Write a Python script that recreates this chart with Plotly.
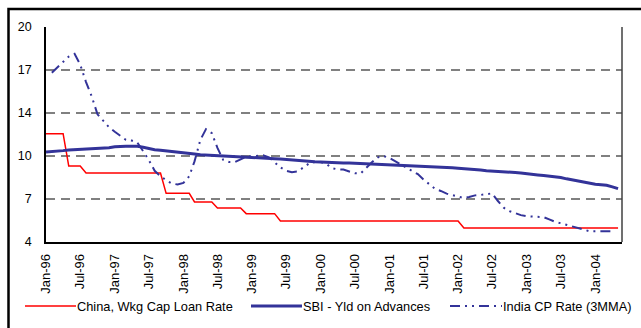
import pandas as pd
import plotly.graph_objects as go

# Monthly observations, Jan-96 .. May-04
months = pd.date_range("1996-01-01", periods=101, freq="MS")

series_names = ["China, Wkg Cap Loan Rate", "SBI - Yld on Advances", "India CP Rate (3MMA)"]

china_rate = [
    12.06, 12.06, 12.06, 12.06, 9.65, 9.65, 9.65, 9.13, 9.13, 9.13,
    9.13, 9.13, 9.13, 9.13, 9.13, 9.13, 9.13, 9.13, 9.13, 9.13,
    9.13, 7.62, 7.62, 7.62, 7.62, 7.62, 6.98, 6.98, 6.98, 6.98,
    6.53, 6.53, 6.53, 6.53, 6.53, 6.11, 6.11, 6.11, 6.11, 6.11,
    6.11, 5.56, 5.56, 5.56, 5.56, 5.56, 5.56, 5.56, 5.56, 5.56,
    5.56, 5.56, 5.56, 5.56, 5.56, 5.56, 5.56, 5.56, 5.56, 5.56,
    5.56, 5.56, 5.56, 5.56, 5.56, 5.56, 5.56, 5.56, 5.56, 5.56,
    5.56, 5.56, 5.56, 5.04, 5.04, 5.04, 5.04, 5.04, 5.04, 5.04,
    5.04, 5.04, 5.04, 5.04, 5.04, 5.04, 5.04, 5.04, 5.04, 5.04,
    5.04, 5.04, 5.04, 5.04, 5.04, 5.04, 5.04, 5.04, 5.04, 5.04,
    5.04,
]

sbi_yield = [
    10.70, 10.72, 10.75, 10.80, 10.85, 10.87, 10.90, 10.93, 10.95, 10.97,
    11.00, 11.02, 11.08, 11.12, 11.12, 11.12, 11.12, 11.05, 10.95, 10.87,
    10.82, 10.78, 10.76, 10.72, 10.65, 10.60, 10.55, 10.50, 10.48, 10.46,
    10.45, 10.43, 10.40, 10.38, 10.36, 10.35, 10.33, 10.30, 10.27, 10.25,
    10.20, 10.17, 10.13, 10.10, 10.07, 10.03, 10.00, 9.97, 9.95, 9.92,
    9.90, 9.89, 9.88, 9.87, 9.85, 9.84, 9.82, 9.80, 9.78, 9.76,
    9.76, 9.75, 9.74, 9.72, 9.70, 9.68, 9.65, 9.63, 9.61, 9.58,
    9.56, 9.52, 9.48, 9.46, 9.42, 9.38, 9.35, 9.31, 9.29, 9.26,
    9.23, 9.20, 9.17, 9.13, 9.10, 9.05, 8.99, 8.95, 8.91, 8.86,
    8.80, 8.70, 8.62, 8.53, 8.45, 8.36, 8.30, 8.26, 8.22, 8.10,
    7.97,
]

india_cp = [
    None, 16.60, 17.00, 17.40, 17.80, 18.00, 17.20, 15.90, 14.80, 13.50,
    13.00, 12.55, 12.20, 11.85, 11.60, 11.55, 11.40, 10.75, 10.10, 9.30,
    8.90, 8.60, 8.35, 8.28, 8.40, 8.90, 10.00, 11.60, 12.40, 12.10,
    11.00, 10.10, 9.95, 9.95, 10.15, 10.35, 10.38, 10.42, 10.45, 10.30,
    9.95, 9.55, 9.30, 9.20, 9.25, 9.58, 9.85, 9.95, 9.95, 9.80,
    9.50, 9.40, 9.39, 9.25, 9.12, 9.10, 9.55, 9.95, 10.30, 10.40,
    10.25, 10.00, 9.80, 9.55, 9.30, 9.05, 8.65, 8.30, 7.95, 7.80,
    7.60, 7.50, 7.40, 7.27, 7.35, 7.47, 7.50, 7.58, 7.62, 7.05,
    6.55, 6.30, 6.15, 6.00, 5.92, 5.90, 5.88, 5.85, 5.68, 5.50,
    5.40, 5.28, 5.15, 5.03, 4.90, 4.80, 4.80, 4.80, 4.80, 4.80,
    None,
]

# Value axis: 4..20 split into five equal steps, labels shown rounded
y_tick_vals = [4, 7.2, 10.4, 13.6, 16.8, 20]
y_tick_text = ["4", "7", "10", "14", "17", "20"]

x_tick_vals = pd.date_range("1996-01-01", "2004-01-01", freq="6MS")
x_tick_text = ["Jan-96", "Jul-96", "Jan-97", "Jul-97", "Jan-98", "Jul-98", "Jan-99",
               "Jul-99", "Jan-00", "Jul-00", "Jan-01", "Jul-01", "Jan-02", "Jul-02",
               "Jan-03", "Jul-03", "Jan-04"]

RED = "#FF0000"
NAVY = "#333399"
CP_DASH = "10px,5px,2px,5px,2px,5px"
FONT = "Liberation Sans, Arial, sans-serif"

styles = [
    dict(color=RED, width=1.5),
    dict(color=NAVY, width=3),
    dict(color=NAVY, width=2, dash=CP_DASH),
]

fig = go.Figure()
for name, vals, st in zip(series_names, [china_rate, sbi_yield, india_cp], styles):
    fig.add_trace(go.Scatter(x=months, y=vals, mode="lines", name=name,
                             line=st, connectgaps=False, showlegend=False))

# plot-area geometry in pixels (for positioning frame and legend items)
L, R, T, B = 46, 622, 27, 242
W, H = R - L, B - T


def px_x(p):
    return (p - L) / W


def px_y(p):
    return (B - p) / H


shapes = [
    # outer chart frame
    dict(type="rect", xref="paper", yref="paper",
         x0=px_x(8.5), x1=px_x(700), y0=px_y(400), y1=px_y(9),
         line=dict(color="black", width=2.5), fillcolor="rgba(0,0,0,0)", layer="above"),
    # right edge of the plot area
    dict(type="line", xref="paper", yref="paper", x0=1, x1=1, y0=0, y1=1,
         line=dict(color="#404040", width=1.5)),
]

annotations = []
legend_y = 306
legend_items = [(25, 76), (251, 302), (450, 502)]
for (x0, x1), name, st in zip(legend_items, series_names, styles):
    shapes.append(dict(type="line", xref="paper", yref="paper",
                       x0=px_x(x0), x1=px_x(x1), y0=px_y(legend_y), y1=px_y(legend_y),
                       line=st))
    annotations.append(dict(text=name, xref="paper", yref="paper",
                            x=px_x(x1 - 1), y=px_y(legend_y), xanchor="left", yanchor="middle",
                            showarrow=False, font=dict(family=FONT, size=12.8, color="black")))

fig.update_layout(
    width=641, height=328,
    margin=dict(l=L, r=641 - R, t=T, b=328 - B),
    paper_bgcolor="white", plot_bgcolor="white",
    font=dict(family=FONT, size=12.5, color="black"),
    shapes=shapes, annotations=annotations,
    showlegend=False,
)

fig.update_xaxes(
    type="date", range=["1996-01-01", "2004-05-22"],
    tickvals=x_tick_vals, ticktext=x_tick_text, tickangle=-90,
    tickfont=dict(size=13),
    showgrid=False, showline=True, linecolor="black", linewidth=1.5,
    ticks="", ticklabelstandoff=5, zeroline=False,
)
fig.update_yaxes(
    range=[4, 20], tickvals=y_tick_vals, ticktext=y_tick_text,
    showgrid=True, gridcolor="#808080", gridwidth=1.5, griddash="9px,6px",
    showline=True, linecolor="black", linewidth=1.5,
    ticks="", ticklabelstandoff=10, zeroline=False,
)

fig.write_html("out.html")
